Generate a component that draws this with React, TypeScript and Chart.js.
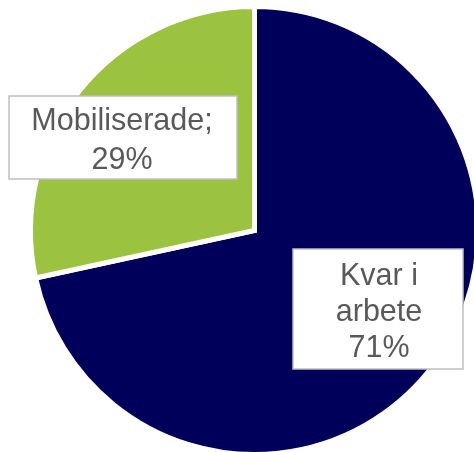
import React, { useEffect, useRef } from "react";
import { Chart, registerables } from "chart.js";

Chart.register(...registerables);

const categories = ["Kvar i arbete", "Mobiliserade"];
const values = [71.6, 28.4];
const sliceColors = ["#00005A", "#9BC33F"];
const labelLines = [
  ["Kvar i", "arbete", "71%"],
  ["Mobiliserade;", "29%"],
];

// label box geometry relative to pie centre
const labelBoxes = [
  { left: 38.5, top: 18.5, w: 170, h: 120, tx: 124.5, base: 54.5, lh: 36 },
  { left: -245.5, top: -134.5, w: 228, h: 83, tx: -132.5, base: -101, lh: 39 },
];

const labelPlugin = {
  id: "boxLabels",
  afterDraw(chart: any) {
    const meta = chart.getDatasetMeta(0);
    const arc = meta.data[0];
    if (!arc) return;
    const cx = arc.x;
    const cy = arc.y;
    const ctx = chart.ctx;
    ctx.save();
    labelBoxes.forEach((b, i) => {
      const x = cx + b.left;
      const y = cy + b.top;
      ctx.fillStyle = "#FFFFFF";
      ctx.fillRect(x, y, b.w, b.h);
      ctx.strokeStyle = "#BFBFBF";
      ctx.lineWidth = 1.5;
      ctx.strokeRect(x, y, b.w, b.h);
      ctx.fillStyle = "#595959";
      ctx.font = '30.5px "Liberation Sans", Arial, sans-serif';
      ctx.textAlign = "center";
      ctx.textBaseline = "alphabetic";
      labelLines[i].forEach((line, j) => {
        ctx.fillText(line, cx + b.tx, cy + b.base + j * b.lh);
      });
    });
    ctx.restore();
  },
};

export default function App() {
  const canvasRef = useRef<HTMLCanvasElement | null>(null);

  useEffect(() => {
    document.documentElement.style.overflow = "hidden";
    document.body.style.margin = "0";
    document.body.style.overflow = "hidden";
    const canvas = canvasRef.current;
    if (!canvas) return;
    const chart = new Chart(canvas, {
      type: "pie",
      data: {
        labels: categories,
        datasets: [
          {
            data: values,
            backgroundColor: sliceColors,
            borderColor: "#FFFFFF",
            borderWidth: 5,
            borderJoinStyle: "miter",
          } as any,
        ],
      },
      options: {
        responsive: false,
        animation: false,
        devicePixelRatio: 1,
        layout: { padding: 4 },
        plugins: {
          legend: { display: false },
          tooltip: { enabled: false },
        },
      },
      plugins: [labelPlugin],
    });
    return () => chart.destroy();
  }, []);

  return (
    <div style={{ position: "absolute", left: 0, top: 0, width: 509, height: 461 }}>
      <canvas ref={canvasRef} width={509} height={461} style={{ display: "block" }} />
    </div>
  );
}
